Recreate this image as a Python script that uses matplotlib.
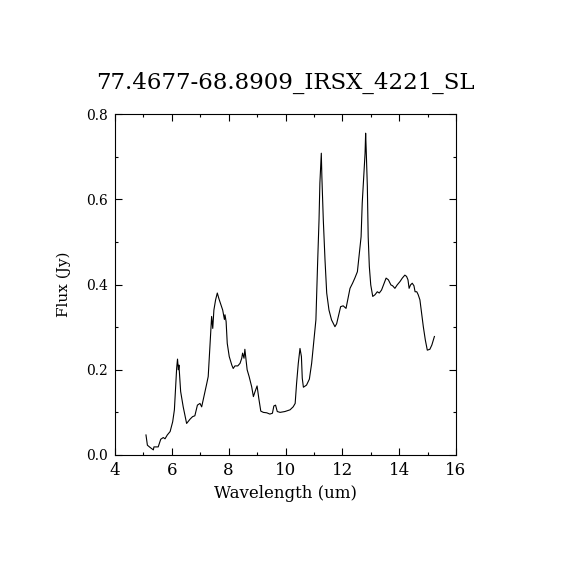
import matplotlib
matplotlib.use('Agg')
import matplotlib.pyplot as plt
from matplotlib.ticker import MultipleLocator

# spectrum (wavelength in um, flux in Jy)
wave = [5.09, 5.14, 5.23, 5.35, 5.37, 5.52, 5.61, 5.70, 5.76, 5.84, 5.94, 6.03,
        6.09, 6.13, 6.17, 6.20, 6.23, 6.25, 6.31, 6.40, 6.52, 6.64, 6.73, 6.81,
        6.90, 6.99, 7.05, 7.13, 7.23, 7.28, 7.34, 7.40, 7.44, 7.48, 7.54, 7.60,
        7.66, 7.73, 7.79, 7.81, 7.85, 7.87, 7.91, 7.95, 8.02, 8.11, 8.16, 8.22,
        8.32, 8.40, 8.46, 8.49, 8.54, 8.57, 8.61, 8.65, 8.72, 8.81, 8.87, 8.93,
        9.00, 9.06, 9.13, 9.22, 9.34, 9.45, 9.54, 9.59, 9.65, 9.71, 9.81, 9.98,
        10.16, 10.27, 10.34, 10.39, 10.45, 10.51, 10.56, 10.59, 10.63, 10.74,
        10.84, 10.92, 11.00, 11.07, 11.13, 11.18, 11.21, 11.24, 11.26, 11.28,
        11.33, 11.39, 11.45, 11.53, 11.62, 11.74, 11.80, 11.86, 11.94, 12.03,
        12.13, 12.19, 12.27, 12.36, 12.44, 12.53, 12.60, 12.66, 12.70, 12.76,
        12.80, 12.82, 12.84, 12.88, 12.91, 12.95, 13.00, 13.07, 13.15, 13.23,
        13.30, 13.38, 13.47, 13.54, 13.62, 13.71, 13.77, 13.85, 13.93, 14.03,
        14.11, 14.20, 14.26, 14.31, 14.35, 14.40, 14.46, 14.52, 14.56, 14.62,
        14.67, 14.73, 14.79, 14.85, 14.92, 14.99, 15.08, 15.15, 15.24]
flux = [0.047, 0.023, 0.018, 0.012, 0.019, 0.019, 0.037, 0.041, 0.038, 0.047,
        0.055, 0.078, 0.106, 0.153, 0.204, 0.225, 0.200, 0.211, 0.149, 0.113,
        0.074, 0.084, 0.090, 0.092, 0.117, 0.121, 0.113, 0.137, 0.168, 0.184,
        0.254, 0.325, 0.297, 0.340, 0.364, 0.380, 0.366, 0.352, 0.340, 0.333,
        0.318, 0.329, 0.313, 0.262, 0.231, 0.211, 0.203, 0.209, 0.209, 0.215,
        0.227, 0.239, 0.227, 0.248, 0.223, 0.200, 0.184, 0.160, 0.137, 0.149,
        0.162, 0.133, 0.103, 0.100, 0.099, 0.096, 0.098, 0.115, 0.117, 0.102,
        0.100, 0.102, 0.106, 0.113, 0.121, 0.168, 0.215, 0.250, 0.231, 0.180,
        0.159, 0.164, 0.178, 0.215, 0.270, 0.317, 0.450, 0.552, 0.638, 0.677,
        0.708, 0.653, 0.552, 0.458, 0.380, 0.340, 0.317, 0.301, 0.308, 0.325,
        0.348, 0.350, 0.344, 0.364, 0.391, 0.403, 0.415, 0.430, 0.473, 0.512,
        0.591, 0.661, 0.708, 0.755, 0.716, 0.630, 0.512, 0.442, 0.399, 0.372,
        0.376, 0.383, 0.380, 0.387, 0.403, 0.415, 0.411, 0.399, 0.397, 0.391,
        0.399, 0.407, 0.415, 0.422, 0.419, 0.411, 0.391, 0.399, 0.403, 0.397,
        0.383, 0.383, 0.376, 0.364, 0.333, 0.301, 0.270, 0.246, 0.248, 0.258,
        0.278]

title = '77.4677-68.8909_IRSX_4221_SL'

plt.rcParams['font.family'] = ['DejaVu Serif']

fig = plt.figure(figsize=(5.7, 5.7), dpi=100)
ax = fig.add_axes([115/570, 115/570, 341/570, 341/570])
ax.plot(wave, flux, color='black', linewidth=0.8)

ax.set_xlim(4, 16)
ax.set_ylim(0, 0.8)
ax.xaxis.set_major_locator(MultipleLocator(2))
ax.xaxis.set_minor_locator(MultipleLocator(1))
ax.yaxis.set_major_locator(MultipleLocator(0.2))
ax.yaxis.set_minor_locator(MultipleLocator(0.1))
ax.yaxis.set_major_formatter(plt.FormatStrFormatter('%.1f'))
ax.tick_params(which='both', direction='in', top=True, right=True, width=0.8)
ax.tick_params(which='major', length=5)
ax.tick_params(which='minor', length=2.5)
ax.tick_params(axis='x', labelsize=12, pad=5)
ax.tick_params(axis='y', labelsize=10, pad=5)
for s in ax.spines.values():
    s.set_linewidth(0.8)

ax.set_xlabel('Wavelength (um)', fontsize=12, labelpad=4)
ax.set_ylabel('Flux (Jy)', fontsize=11, labelpad=11)
fig.text(285/570, 1 - 83/570, title, fontsize=16.5, ha='center', va='center')

fig.savefig('out.png', dpi=100)
